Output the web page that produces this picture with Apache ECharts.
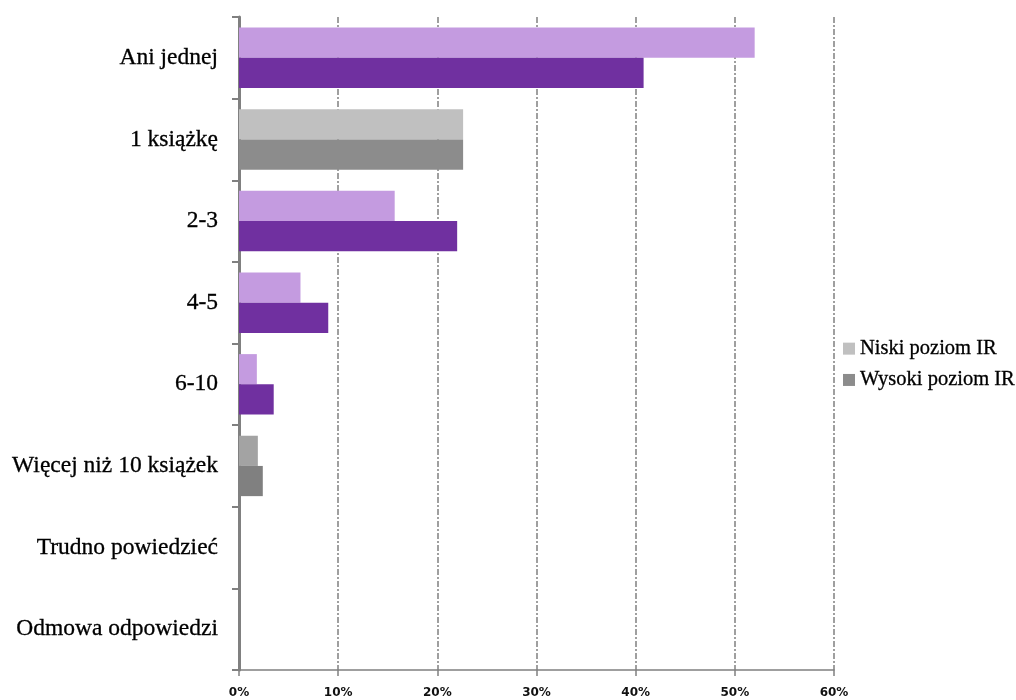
<!DOCTYPE html>
<html>
<head>
<meta charset="utf-8">
<script src="https://cdn.jsdelivr.net/npm/echarts@6/dist/echarts.min.js"></script>
<style>
  html, body { margin: 0; padding: 0; background: #fff; }
  #chart { width: 1016px; height: 700px; }
</style>
</head>
<body>
<div id="chart"></div>
<script>
// Liczba przeczytanych książek wg poziomu IR (w %)
const categories = ['Ani jednej', '1 książkę', '2-3', '4-5', '6-10', 'Więcej niż 10 książek', 'Trudno powiedzieć', 'Odmowa odpowiedzi'];
const seriesNames = ['Niski poziom IR', 'Wysoki poziom IR'];
const niskiValues = [52.0, 22.6, 15.7, 6.2, 1.8, 1.9, 0, 0];
const wysokiValues = [40.8, 22.6, 22.0, 9.0, 3.5, 2.4, 0, 0];
const tickLabels = ['0%', '10%', '20%', '30%', '40%', '50%', '60%'];

// per-category palettes: purple rows and grey rows
const niskiColors = ['#c49be0', '#c0c0c0', '#c49be0', '#c49be0', '#c49be0', '#a3a3a3', '#c0c0c0', '#c0c0c0'];
const wysokiColors = ['#7030a0', '#8c8c8c', '#7030a0', '#7030a0', '#7030a0', '#808080', '#8c8c8c', '#8c8c8c'];

const toItems = (vals, cols) => vals.map((v, i) => ({ value: v, itemStyle: { color: cols[i] } }));

const serifText = {
  fontFamily: 'Liberation Serif',
  color: '#000',
  textBorderColor: '#000',
  textBorderWidth: 0.3
};

const chart = echarts.init(document.getElementById('chart'));
chart.setOption({
  animation: false,
  backgroundColor: '#ffffff',
  grid: { left: 239, right: 182, top: 17, bottom: 30, containLabel: false },
  legend: {
    orient: 'vertical',
    left: 843,
    top: 338,
    padding: 0,
    itemWidth: 12,
    itemHeight: 12,
    itemGap: 10,
    icon: 'rect',
    textStyle: Object.assign({ fontSize: 20.5 }, serifText),
    data: seriesNames
  },
  xAxis: {
    type: 'value',
    min: 0,
    max: 60,
    interval: 10,
    axisLine: { show: true, lineStyle: { color: '#808080', width: 1.5 } },
    axisTick: { show: true, length: 6, lineStyle: { color: '#808080', width: 1.5 } },
    axisLabel: {
      margin: 17,
      fontFamily: 'DejaVu Sans',
      fontWeight: 'bold',
      fontSize: 12,
      color: '#111',
      formatter: (v) => tickLabels[Math.round(v / 10)]
    },
    splitLine: { show: true, lineStyle: { color: '#808080', width: 1.5, type: [6, 2, 2, 2] } }
  },
  yAxis: {
    type: 'category',
    data: categories,
    inverse: true,
    axisLine: { show: true, lineStyle: { color: '#808080', width: 3 } },
    axisTick: { show: true, length: 7, lineStyle: { color: '#808080', width: 2 } },
    axisLabel: Object.assign({ margin: 21, fontSize: 23.5 }, serifText)
  },
  series: [
    {
      name: seriesNames[0],
      type: 'bar',
      itemStyle: { color: '#c0c0c0' },
      barGap: '0%',
      barCategoryGap: '26%',
      data: toItems(niskiValues, niskiColors)
    },
    {
      name: seriesNames[1],
      type: 'bar',
      itemStyle: { color: '#8c8c8c' },
      barGap: '0%',
      barCategoryGap: '26%',
      data: toItems(wysokiValues, wysokiColors)
    }
  ]
});
</script>
</body>
</html>
